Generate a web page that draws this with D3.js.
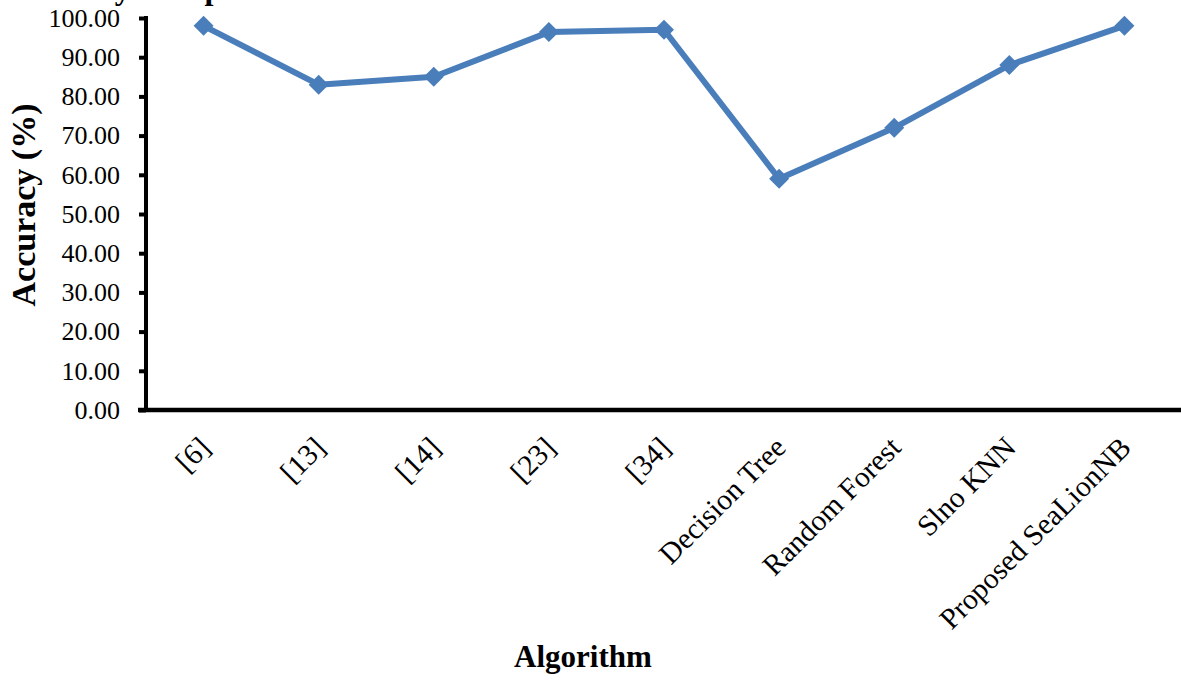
<!DOCTYPE html>
<html>
<head>
<meta charset="utf-8">
<script src="https://cdn.jsdelivr.net/npm/d3@7"></script>
<style>
  html, body { margin: 0; padding: 0; background: #ffffff; }
  svg { display: block; font-family: "Liberation Serif", "Times New Roman", serif; }
</style>
</head>
<body>
<svg id="chart" width="1181" height="680"></svg>
<script>
// Accuracy of each algorithm (%)
const algorithms = ["[6]", "[13]", "[14]", "[23]", "[34]", "Decision Tree", "Random Forest", "Slno KNN", "Proposed SeaLionNB"];
const accuracy = [98, 83, 85, 96.4, 97, 59, 72, 88, 98];
const yTicks = [0, 10, 20, 30, 40, 50, 60, 70, 80, 90, 100];

const svg = d3.select("#chart");
const W = 1181, H = 680;
const plotLeft = 146, plotBottom = 410, plotTop = 18, plotRight = 1182;

const x = d3.scaleBand().domain(algorithms).range([plotLeft, plotRight]).padding(0);
const y = d3.scaleLinear().domain([0, 100]).range([plotBottom, plotTop]);

// Title (runs off the top edge of the figure)
svg.append("text")
  .attr("x", 1).attr("y", -1)
  .attr("font-weight", "bold").attr("font-size", 32)
  .attr("fill", "#000")
  .text("Accuracy Comparison");

// Y axis
const yAxis = svg.append("g")
  .attr("transform", `translate(${plotLeft},0)`)
  .call(d3.axisLeft(y).tickValues(yTicks).tickSize(7).tickPadding(19)
    .tickFormat(d3.format(".2f")));
yAxis.select(".domain").remove();
yAxis.selectAll(".tick line").attr("stroke", "#000").attr("stroke-width", 4);
yAxis.selectAll(".tick text")
  .attr("font-family", "Liberation Serif, Times New Roman, serif")
  .attr("font-size", 26).attr("fill", "#000");
svg.append("line")
  .attr("x1", plotLeft).attr("x2", plotLeft)
  .attr("y1", plotTop - 2).attr("y2", plotBottom)
  .attr("stroke", "#000").attr("stroke-width", 4);

// X axis
const xAxis = svg.append("g")
  .attr("transform", `translate(0,${plotBottom})`)
  .call(d3.axisBottom(x).tickSize(0).tickPadding(0));
xAxis.select(".domain").remove();
xAxis.selectAll(".tick text")
  .attr("font-family", "Liberation Serif, Times New Roman, serif")
  .attr("font-size", 29.5).attr("fill", "#000")
  .attr("text-anchor", "end")
  .attr("dy", "0.35em")
  .attr("transform", "translate(1,32) rotate(-45)");
svg.append("line")
  .attr("x1", plotLeft - 8).attr("x2", W)
  .attr("y1", plotBottom).attr("y2", plotBottom)
  .attr("stroke", "#000").attr("stroke-width", 4.5);

// Axis titles
svg.append("text")
  .attr("transform", `translate(35,205) rotate(-90)`)
  .attr("text-anchor", "middle")
  .attr("font-weight", "bold").attr("font-size", 34)
  .text("Accuracy (%)");
svg.append("text")
  .attr("x", 583).attr("y", 667)
  .attr("text-anchor", "middle")
  .attr("font-weight", "bold").attr("font-size", 31)
  .text("Algorithm");

// Series line and markers
const data = algorithms.map((a, i) => ({ a, v: accuracy[i] }));
const cx = d => x(d.a) + x.bandwidth() / 2;
const blue = "#4a7ebb";

svg.append("path")
  .datum(data)
  .attr("fill", "none")
  .attr("stroke", blue)
  .attr("stroke-width", 6)
  .attr("stroke-linejoin", "round")
  .attr("d", d3.line().x(cx).y(d => y(d.v)));

svg.append("g").selectAll("path")
  .data(data)
  .join("path")
  .attr("transform", d => `translate(${cx(d)},${y(d.v)}) rotate(45)`)
  .attr("d", d3.symbol(d3.symbolSquare, 200)())
  .attr("fill", blue);
</script>
</body>
</html>
